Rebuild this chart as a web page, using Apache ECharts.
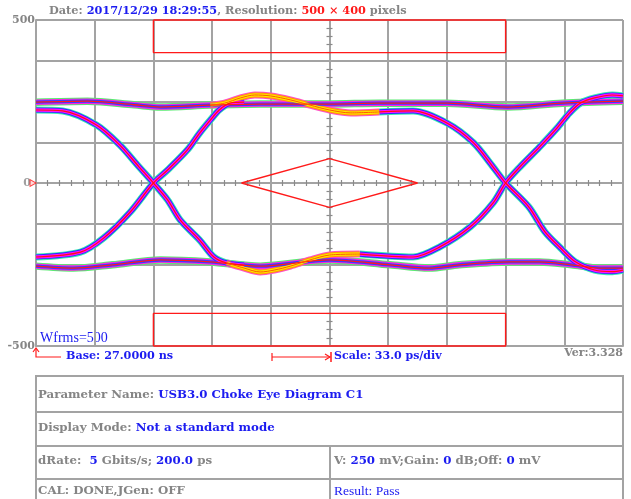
<!DOCTYPE html>
<html><head><meta charset="utf-8">
<script src="https://cdn.jsdelivr.net/npm/echarts@6/dist/echarts.min.js"></script>
<style>html,body{margin:0;padding:0;background:#fff}#c{width:631px;height:499px}</style>
</head><body><div id="c"></div>
<script>
// ---- axes (time in ps relative to screen centre, voltage in mV) ----
const timeMin = -165, timeMax = 165, timeDiv = 33;
const voltMin = -500, voltMax = 500, voltDiv = 125;
const voltLabels = [-500, 0, 500];

// ---- eye traces (ps, mV) ----
const topRail = [[-165,248],[-136,251],[-110,240],[-95,233],[-67,239],[-39,242],[0,242],[28,245],[66,245],[100,233],[131,245],[165,251]];
const bottomRail = [[-165,-255],[-144,-261],[-122,-251],[-95,-236],[-67,-242],[-39,-255],[0,-236],[34,-251],[56,-261],[73,-251],[101,-242],[118,-242],[136,-251],[152,-261],[165,-261]];
const fallEdge1 = [[-165,224],[-150,221],[-131,178],[-118,117],[-107,49],[-99,0],[-91,-52],[-84,-113],[-73,-175],[-65,-227],[-58,-245],[-48,-252]];
const riseEdge1 = [[-165,-227],[-140,-212],[-127,-169],[-112,-89],[-99,0],[-91,40],[-80,101],[-73,153],[-67,193],[-62,224],[-56,245],[-48,248]];
const humpHigh = [[-67,239],[-59,245],[-50,261],[-42,270],[-33,267],[-22,255],[-11,239],[0,224],[12,215],[28,218]];
const fallEdge2 = [[28,218],[47,221],[66,184],[81,123],[92,49],[99,0],[112,-73],[121,-149],[130,-200],[138,-241],[149,-267],[159,-272],[165,-267]];
const dipLow = [[-58,-245],[-48,-261],[-39,-273],[-31,-267],[-22,-255],[-11,-236],[0,-221],[17,-218]];
const riseEdge2 = [[17,-218],[47,-227],[62,-196],[79,-135],[92,-61],[99,0],[107,49],[118,110],[128,169],[135,215],[141,245],[149,261],[159,270],[165,267]];

// ---- masks ----
const maskTop = [[-99,500],[-99,400],[99,400],[99,500],[-99,500]];
const maskBottom = [[-99,-500],[-99,-400],[99,-400],[99,-500],[-99,-500]];
const maskCentre = [[-49.5,0],[0,75],[49.5,0],[0,-75],[-49.5,0]];
const triggerLevel = [[-165,0]];

// ---- texts ----
const infoDate = '2017/12/29 18:29:55';
const infoRes = '500 × 400';
const waveforms = 'Wfrms=500';
const baseText = 'Base: 27.0000 ns';
const scaleText = 'Scale: 33.0 ps/div';
const verText = 'Ver:3.328';

const GRAY = '#858585', BLUE = '#1c1cf0', RED = '#ff1a1a', GRID = '#a3a3a3';
const SERIF = '"DejaVu Serif", serif';
const TIMES = '"Liberation Serif", serif';
const TFONT = 'bold 11.8px ' + SERIF;

const edgePalette = [
  {w:7, c:'#3ce8b4'}, {w:5.2, c:'#2b2bff'}, {w:3.3, c:'#ff10ff'}, {w:1.2, c:'#ff1010'}
];
const railPalette = [
  {w:7.5, c:'#58ec70'}, {w:5.5, c:'#ff20e8'}, {w:3.4, c:'#3b3bff'}, {w:1.3, c:'#ff1a1a'}
];
const humpPalette = [
  {w:7, c:'#ff50c8'}, {w:5, c:'#ff9a00'}, {w:3, c:'#ffe600'}, {w:1, c:'#ff5a00'}
];

const traces = [
  {d: topRail, p: railPalette}, {d: bottomRail, p: railPalette},
  {d: fallEdge1, p: edgePalette}, {d: riseEdge1, p: edgePalette},
  {d: fallEdge2, p: edgePalette}, {d: riseEdge2, p: edgePalette},
  {d: humpHigh, p: humpPalette}, {d: dipLow, p: humpPalette}
];

const series = [];
for (let layer = 0; layer < 4; layer++) {
  traces.forEach(t => {
    series.push({
      type: 'line', data: t.d, smooth: 0.3, showSymbol: false, silent: true,
      xAxisIndex: 0, yAxisIndex: 0, z: 3 + layer, animation: false,
      lineStyle: {width: t.p[layer].w, color: t.p[layer].c}
    });
  });
}
[maskTop, maskBottom, maskCentre].forEach(m => series.push({
  type: 'line', data: m, showSymbol: false, silent: true, clip: false, z: 9,
  animation: false, lineStyle: {width: 1.4, color: RED}
}));
series.push({
  type: 'scatter', data: triggerLevel, symbol: 'triangle', symbolRotate: -90,
  symbolSize: [7, 6], symbolOffset: [-3, 0], clip: false, z: 10, silent: true,
  itemStyle: {color: 'rgba(255,80,80,0.25)', borderColor: RED, borderWidth: 1}
});

const hiddenLabel = {show: false};
function tickAxis(kind, inside) {
  const isX = kind === 'x';
  return {
    type: 'value', min: isX ? timeMin : voltMin, max: isX ? timeMax : voltMax,
    interval: isX ? timeDiv : voltDiv, position: isX ? 'bottom' : 'left',
    axisLine: {show: true, onZero: true, lineStyle: {color: GRID, width: 2}},
    axisTick: {show: false, inside: inside},
    minorTick: {show: true, splitNumber: 5, length: 3, lineStyle: {color: '#8a8a8a', width: 1.2}},
    axisLabel: hiddenLabel, splitLine: {show: false}
  };
}

const option = {
  animation: false,
  backgroundColor: '#fff',
  grid: {left: 36, right: 8, top: 20, bottom: 153, show: false},
  xAxis: [
    {type: 'value', min: timeMin, max: timeMax, interval: timeDiv, position: 'bottom',
     axisLine: {show: true, onZero: false, lineStyle: {color: GRID, width: 2}},
     axisTick: {show: false}, axisLabel: hiddenLabel,
     splitLine: {show: true, lineStyle: {color: GRID, width: 2}}},
    tickAxis('x', false), tickAxis('x', true)
  ],
  yAxis: [
    {type: 'value', min: voltMin, max: voltMax, interval: voltDiv, position: 'left',
     axisLine: {show: true, onZero: false, lineStyle: {color: GRID, width: 2}},
     axisTick: {show: false},
     axisLabel: {
       margin: 1, color: GRAY, fontFamily: SERIF, fontWeight: 'bold', fontSize: 11,
       formatter: v => voltLabels.indexOf(v) >= 0 ? (v === 0 ? '{z|0}' : String(v)) : '',
       rich: {z: {padding: [0, 4, 0, 0], color: '#a0a0a0', fontFamily: SERIF, fontWeight: 'bold', fontSize: 11}}
     },
     splitLine: {show: true, lineStyle: {color: GRID, width: 2}}},
    tickAxis('y', false), tickAxis('y', true)
  ],
  series: series,
  graphic: [
    {type: 'text', left: 49, top: 6, style: {
      text: '{g|Date: }{b|' + infoDate + '}{g|, Resolution: }{r|' + infoRes + '}{g| pixels}',
      rich: {
        g: {fill: GRAY, font: 'bold 11.3px ' + SERIF},
        b: {fill: BLUE, font: 'bold 11.3px ' + SERIF},
        r: {fill: RED, font: 'bold 11.3px ' + SERIF}
      }}},
    {type: 'text', left: 40, top: 331, style: {text: waveforms, fill: BLUE, font: '14px ' + TIMES}},
    // base marker
    {type: 'polyline', shape: {points: [[36, 349], [36, 357], [61, 357]]}, style: {stroke: RED, lineWidth: 1.2, fill: null}},
    {type: 'polyline', shape: {points: [[33, 352], [36, 348], [39, 352]]}, style: {stroke: RED, lineWidth: 1.2, fill: null}},
    {type: 'text', left: 66, top: 351, style: {text: baseText, fill: BLUE, font: 'bold 11.2px ' + SERIF}},
    // scale marker
    {type: 'polyline', shape: {points: [[272, 353], [272, 361]]}, style: {stroke: RED, lineWidth: 1.2}},
    {type: 'polyline', shape: {points: [[272, 357], [330, 357]]}, style: {stroke: RED, lineWidth: 1.2}},
    {type: 'polyline', shape: {points: [[325, 354], [330, 357], [325, 360]]}, style: {stroke: RED, lineWidth: 1.2, fill: null}},
    {type: 'polyline', shape: {points: [[331, 352], [331, 362]]}, style: {stroke: RED, lineWidth: 1.5}},
    {type: 'text', left: 334, top: 351, style: {text: scaleText, fill: BLUE, font: 'bold 11px ' + SERIF}},
    {type: 'text', right: 8, top: 348, style: {text: verText, fill: GRAY, font: 'bold 11px ' + SERIF}},
    // parameter table
    {type: 'rect', shape: {x: 36, y: 376, width: 587, height: 140}, style: {stroke: GRID, lineWidth: 2, fill: null}},
    {type: 'line', shape: {x1: 36, y1: 412, x2: 623, y2: 412}, style: {stroke: GRID, lineWidth: 2}},
    {type: 'line', shape: {x1: 36, y1: 446, x2: 623, y2: 446}, style: {stroke: GRID, lineWidth: 2}},
    {type: 'line', shape: {x1: 36, y1: 479, x2: 623, y2: 479}, style: {stroke: GRID, lineWidth: 2}},
    {type: 'line', shape: {x1: 330, y1: 446, x2: 330, y2: 499}, style: {stroke: GRID, lineWidth: 2}},
    {type: 'text', left: 38, top: 389, style: {
      text: '{g|Parameter Name: }{b|USB3.0 Choke Eye Diagram C1}',
      rich: {g: {fill: GRAY, font: TFONT}, b: {fill: BLUE, font: TFONT}}}},
    {type: 'text', left: 38, top: 422, style: {
      text: '{g|Display Mode: }{b|Not a standard mode}',
      rich: {g: {fill: GRAY, font: TFONT}, b: {fill: BLUE, font: TFONT}}}},
    {type: 'text', left: 38, top: 455, style: {
      text: '{g|dRate:  }{b|5}{g| Gbits/s; }{b|200.0}{g| ps}',
      rich: {g: {fill: GRAY, font: TFONT}, b: {fill: BLUE, font: TFONT}}}},
    {type: 'text', left: 334, top: 455, style: {
      text: '{g|V: }{b|250}{g| mV;Gain: }{b|0}{g| dB;Off: }{b|0}{g| mV}',
      rich: {g: {fill: GRAY, font: TFONT}, b: {fill: BLUE, font: TFONT}}}},
    {type: 'text', left: 38, top: 485, style: {text: 'CAL: DONE,JGen: OFF', fill: GRAY, font: TFONT}},
    {type: 'text', left: 334, top: 484, style: {text: 'Result: Pass', fill: BLUE, font: '13.5px ' + TIMES}}
  ]
};

const chart = echarts.init(document.getElementById('c'), null, {renderer: 'canvas'});
chart.setOption(option);
</script></body></html>
